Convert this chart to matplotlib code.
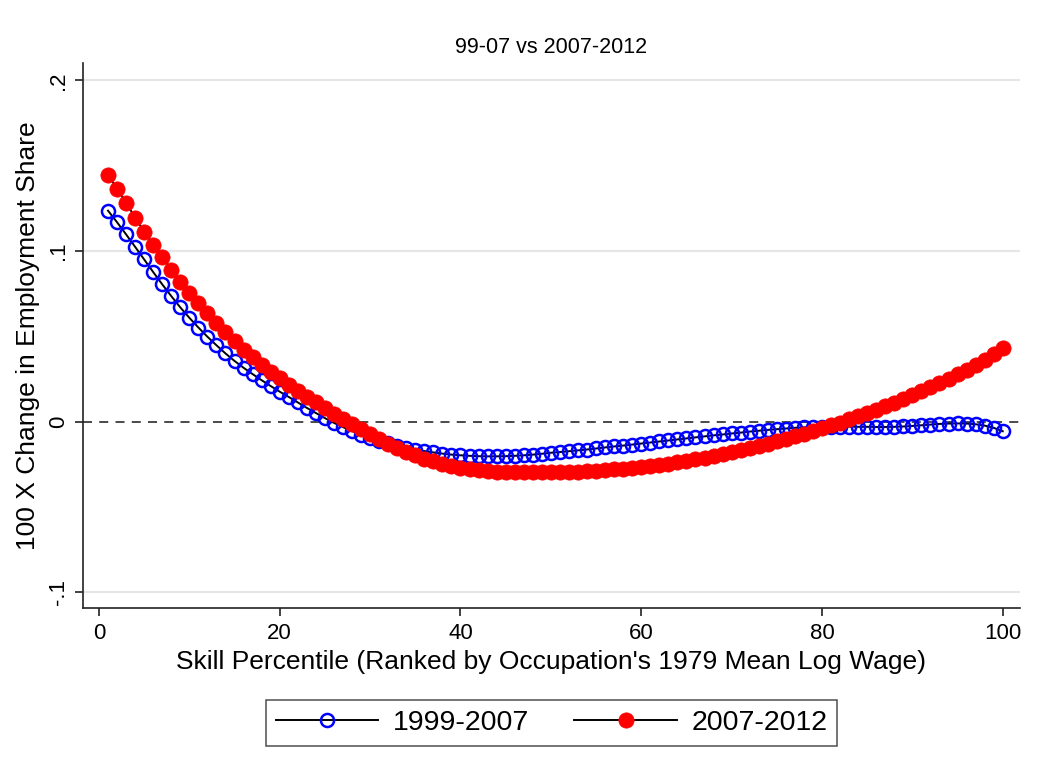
import matplotlib
matplotlib.use("Agg")
import matplotlib.pyplot as plt
from matplotlib.lines import Line2D

plt.rcParams["font.family"] = ["Liberation Sans", "DejaVu Sans"]

# skill percentile of occupation (ranked by 1979 mean log wage)
PERCENTILE = list(range(1, 101))

# smoothed 100 x change in employment share, 1999-2007
CHANGE_99_07 = [
    0.1236, 0.1168, 0.1097, 0.1024, 0.0950, 0.0876, 0.0804, 0.0735, 0.0669, 0.0608,
    0.0551, 0.0497, 0.0447, 0.0399, 0.0355, 0.0315, 0.0278, 0.0242, 0.0208, 0.0175,
    0.0144, 0.0112, 0.0080, 0.0050, 0.0020, -0.0008, -0.0033, -0.0056, -0.0077, -0.0096,
    -0.0113, -0.0128, -0.0142, -0.0154, -0.0164, -0.0173, -0.0181, -0.0188, -0.0194, -0.0198,
    -0.0201, -0.0203, -0.0204, -0.0204, -0.0203, -0.0201, -0.0198, -0.0194, -0.0189, -0.0183,
    -0.0179, -0.0174, -0.0169, -0.0164, -0.0158, -0.0152, -0.0146, -0.0141, -0.0135, -0.0129,
    -0.0123, -0.0117, -0.0111, -0.0105, -0.0099, -0.0093, -0.0087, -0.0081, -0.0076, -0.0070,
    -0.0065, -0.0059, -0.0054, -0.0049, -0.0045, -0.0041, -0.0037, -0.0034, -0.0032, -0.0030,
    -0.0030, -0.0030, -0.0030, -0.0031, -0.0031, -0.0032, -0.0032, -0.0031, -0.0029, -0.0026,
    -0.0022, -0.0018, -0.0014, -0.0012, -0.0011, -0.0012, -0.0016, -0.0024, -0.0037, -0.0057,
]

# smoothed 100 x change in employment share, 2007-2012
CHANGE_07_12 = [
    0.1447, 0.1365, 0.1283, 0.1195, 0.1113, 0.1036, 0.0966, 0.0890, 0.0819, 0.0755,
    0.0696, 0.0638, 0.0579, 0.0526, 0.0470, 0.0422, 0.0378, 0.0333, 0.0292, 0.0254,
    0.0215, 0.0180, 0.0145, 0.0113, 0.0080, 0.0047, 0.0015, -0.0016, -0.0046, -0.0075,
    -0.0103, -0.0129, -0.0154, -0.0177, -0.0198, -0.0217, -0.0234, -0.0249, -0.0262, -0.0273,
    -0.0281, -0.0287, -0.0292, -0.0295, -0.0297, -0.0298, -0.0298, -0.0298, -0.0297, -0.0297,
    -0.0296, -0.0295, -0.0293, -0.0291, -0.0288, -0.0285, -0.0281, -0.0277, -0.0272, -0.0267,
    -0.0261, -0.0254, -0.0247, -0.0239, -0.0231, -0.0222, -0.0212, -0.0202, -0.0191, -0.0180,
    -0.0168, -0.0156, -0.0143, -0.0130, -0.0116, -0.0102, -0.0087, -0.0072, -0.0056, -0.0040,
    -0.0023, -0.0006, 0.0012, 0.0030, 0.0049, 0.0069, 0.0089, 0.0110, 0.0131, 0.0153,
    0.0176, 0.0200, 0.0225, 0.0250, 0.0276, 0.0303, 0.0332, 0.0362, 0.0395, 0.0432,
]

SERIES_LABELS = ["1999-2007", "2007-2012"]
X_TICKS = [0, 20, 40, 60, 80, 100]
Y_TICKS = [-0.1, 0, 0.1, 0.2]
Y_TICK_LABELS = ["-.1", "0", ".1", ".2"]

fig = plt.figure(figsize=(10.45, 7.82), dpi=100)
ax = fig.add_axes([0.0794, 0.2225, 0.8966, 0.6975])

# light horizontal grid, dashed reference line at zero
for y in Y_TICKS:
    if y == 0:
        ax.axhline(0, color="#3c3c3c", lw=1.3, ls=(0, (5, 4)), zorder=1)
    else:
        ax.axhline(y, color="#e6e6e6", lw=1.6, zorder=0)

blue_style = dict(color="black", lw=1.4, marker="o", markersize=9.4,
                  markerfacecolor="none", markeredgecolor="#0000ff", markeredgewidth=1.8)
red_style = dict(color="black", lw=1.4, marker="o", markersize=11,
                 markerfacecolor="#ff0000", markeredgecolor="#ff0000", markeredgewidth=0.5)

ax.plot(PERCENTILE, CHANGE_99_07, zorder=3, **blue_style)
ax.plot(PERCENTILE, CHANGE_07_12, zorder=4, **red_style)

ax.set_xlim(-1.77, 101.9)
ax.set_ylim(-0.1093, 0.2104)
ax.set_xticks(X_TICKS)
ax.set_yticks(Y_TICKS)
ax.set_yticklabels(Y_TICK_LABELS, rotation=90, va="center")

for side in ("top", "right"):
    ax.spines[side].set_visible(False)
for side in ("left", "bottom"):
    ax.spines[side].set_linewidth(1.2)
    ax.spines[side].set_color("#222222")

ax.tick_params(axis="both", direction="out", length=6, width=1.2, color="#222222",
               labelsize=16)
ax.tick_params(axis="x", pad=5)
ax.tick_params(axis="y", pad=4)

ax.set_xlabel("Skill Percentile (Ranked by Occupation's 1979 Mean Log Wage)",
              fontsize=19, labelpad=4)
ax.set_ylabel("100 X Change in Employment Share", fontsize=19, labelpad=6)
ax.set_title("99-07 vs 2007-2012", fontsize=15.5, pad=7)

handles = [Line2D([], [], **blue_style), Line2D([], [], **red_style)]
leg = fig.legend(handles, SERIES_LABELS, loc="center", bbox_to_anchor=(0.5278, 0.076),
                 ncol=2, fontsize=20.5, frameon=True, fancybox=False, edgecolor="#222222",
                 handlelength=3.6, handletextpad=0.5, columnspacing=1.6, borderpad=0.35,
                 numpoints=1)
leg.get_frame().set_linewidth(1.1)

fig.savefig("out.png", dpi=100)
